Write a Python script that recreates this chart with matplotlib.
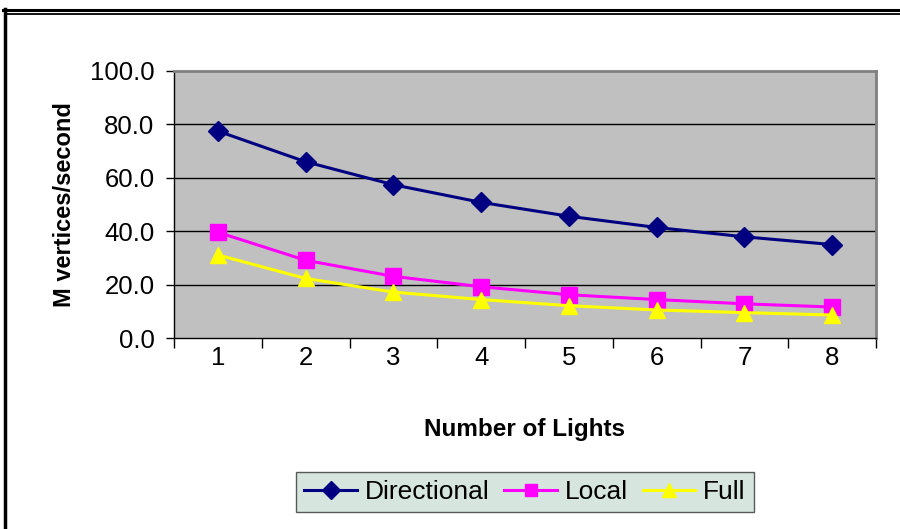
import matplotlib
matplotlib.use("Agg")
import matplotlib.pyplot as plt
from matplotlib.lines import Line2D
import numpy as np

lights = [1, 2, 3, 4, 5, 6, 7, 8]
directional = [77.5, 66.0, 57.4, 50.8, 45.6, 41.4, 37.9, 35.0]
local = [39.6, 29.1, 23.1, 19.2, 16.2, 14.4, 12.8, 11.6]
full = [31.1, 22.3, 17.2, 14.4, 12.1, 10.5, 9.5, 8.6]
yticks = [0, 20, 40, 60, 80, 100]

plt.rcParams['font.family'] = ['Liberation Sans', 'DejaVu Sans']

fig = plt.figure(figsize=(9, 5.29), dpi=100)
ax = fig.add_axes([174/900, 1-338/529, (876-174)/900, (338-71)/529])
ax.set_facecolor('#C0C0C0')

x = np.array(lights, dtype=float)
ax.plot(x, directional, color='#000080', lw=2.2, marker='D', ms=10.5, label='Directional', zorder=3)
ax.plot(x, local, color='#FF00FF', lw=2.2, marker='s', ms=11, label='Local', zorder=3)
ax.plot(x, full, color='#FFFF00', lw=2.2, marker='^', ms=12, label='Full', zorder=3)

ax.set_xlim(0.5, 8.5)
ax.set_ylim(0, 100)
ax.set_yticks(yticks)
ax.set_yticklabels([f"{v:.1f}" for v in yticks], fontsize=18.5)
for v in yticks[1:-1]:
    ax.axhline(v, color='black', lw=1, zorder=1)

ax.set_xticks(np.arange(0.5, 9.0, 1.0))
ax.set_xticklabels([])
ax.set_xticks(x, minor=True)
ax.set_xticklabels([str(v) for v in lights], minor=True, fontsize=18.5)
ax.tick_params(axis='x', which='minor', length=0, pad=6)
ax.tick_params(axis='x', which='major', length=7, width=1, direction='out')
ax.tick_params(axis='y', length=6, width=1, direction='out', pad=8)

for s in ['top', 'right']:
    ax.spines[s].set_color('#808080')
    ax.spines[s].set_linewidth(2)
for s in ['left', 'bottom']:
    ax.spines[s].set_color('black')
    ax.spines[s].set_linewidth(1)

ax.set_xlabel('Number of Lights', fontsize=17.5, fontweight='bold', labelpad=34)
ax.set_ylabel('M vertices/second', fontsize=17, fontweight='bold', labelpad=10)

leg = fig.legend(loc='center', bbox_to_anchor=(525/900, 1-492/529), ncol=3, fontsize=19,
                 frameon=True, fancybox=False, handlelength=2.0, handletextpad=0.3,
                 columnspacing=0.55, borderpad=0.3, borderaxespad=0, markerscale=0.85)
leg.get_frame().set_facecolor('#CCE0D8')
leg.get_frame().set_edgecolor('#333333')
leg.get_frame().set_linewidth(1)

# outer frame lines
fig.add_artist(Line2D([3/900, 1], [1-10/529, 1-10/529], color='black', lw=2.2, transform=fig.transFigure))
fig.add_artist(Line2D([6/900, 1], [1-13.5/529, 1-13.5/529], color='black', lw=1.3, transform=fig.transFigure))
fig.add_artist(Line2D([4.5/900, 4.5/900], [0, 1-9/529], color='black', lw=2.5, transform=fig.transFigure))

fig.savefig('out.png', dpi=100)
